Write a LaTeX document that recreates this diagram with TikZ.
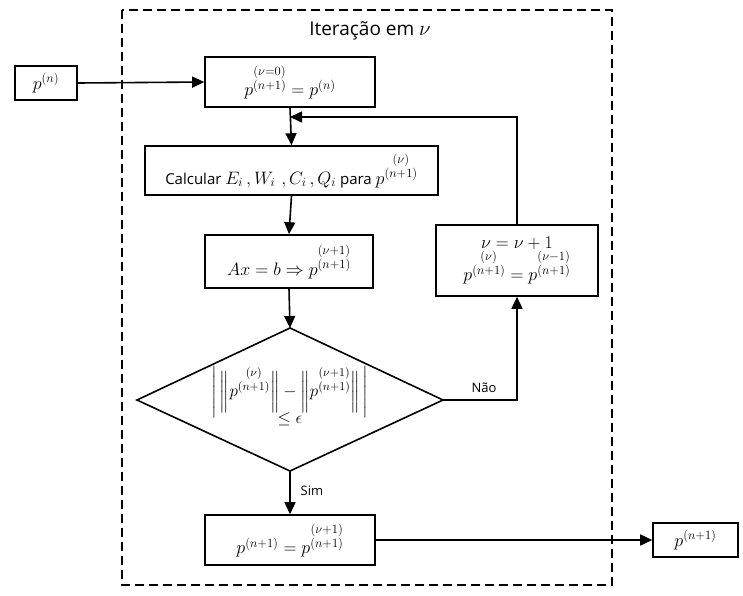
\RequirePackage{fix-cm}
\documentclass[tikz,border=0pt]{standalone}
\usepackage{amsmath}
\usepackage{fontspec}
\setmainfont{Open Sans}
\usetikzlibrary{arrows.meta}
\newcommand\pst[1]{p^{\overset{\scriptstyle #1}{(n+1)}}}
\tikzset{
  box/.style={draw, line width=1.6pt, fill=white, inner sep=2pt, align=center, font=\fontsize{18}{20}\selectfont},
  arr/.style={line width=1.6pt, -{Triangle[length=12pt,width=11pt]}},
  ln/.style={line width=1.6pt},
  lbl/.style={font=\fontsize{13}{15}\selectfont}
}
\begin{document}
\begin{tikzpicture}[x=1pt,y=-1pt]
\useasboundingbox (0,0) rectangle (743,595);
% frame
\draw[line width=1.6pt, dash pattern=on 9pt off 5pt] (122,10) rectangle (612,585);
\node[font=\fontsize{19}{21}\selectfont] (title) at (370,31) {Iteração em {\fontsize{21}{21}\selectfont$\nu$}};
% boxes
\node[box, minimum width=62, minimum height=34] (pn) at (46,83) {$p^{(n)}$};
\node[box, minimum width=170, minimum height=50] (b1) at (290,82) {$\pst{(\nu=0)} = p^{(n)}$};
\node[box, minimum width=293, minimum height=49, font=\fontsize{15}{17}\selectfont] (calc) at (291.5,170.5) {Calcular {\fontsize{18}{20}\selectfont$E_i\,,W_i\,\,,C_i\,,Q_i$} para {\fontsize{18}{20}\selectfont$\pst{(\nu)}$}};
\node[box, minimum width=168, minimum height=53] (ax) at (289,261.5) {$Ax=b\Rightarrow \pst{(\nu+1)}$};
\node[box, minimum width=162, minimum height=71] (nu) at (517,260.5) {$\nu=\nu+1$\\[-1pt] $\pst{(\nu)} = \pst{(\nu-1)}$};
\node[box, minimum width=170, minimum height=50] (fin) at (290,540) {$p^{(n+1)} = \pst{(\nu+1)}$};
\node[box, minimum width=85, minimum height=34] (out) at (695.5,540) {$p^{(n+1)}$};
% diamond
\coordinate (dt) at (290,328);
\coordinate (dl) at (137,400);
\coordinate (dr) at (443,400);
\coordinate (db) at (290,471);
\draw[ln, line join=miter] (dt) -- (dr) -- (db) -- (dl) -- cycle;
\node[align=center, font=\fontsize{17}{19}\selectfont] (dtext) at (290,396) {$\Biggl|\,\biggl\|\pst{(\nu)}\biggr\| - \biggl\|\pst{(\nu+1)}\biggr\|\,\Biggr|$\\[-6pt] $\le\epsilon$};
% connectors
\draw[arr] (pn.east) -- (b1.west);
\draw[arr] (b1.south) -- (calc.north);
\draw[arr] (calc.south) -- (ax.north);
\draw[arr] (ax.south) -- (dt);
\coordinate (rc) at (517,400);
\draw[arr] (dr) -- (rc) -- (nu.south);
\coordinate (jn) at (290,117);
\draw[arr] (nu.north) |- (jn);
\draw[arr] (db) -- (fin.north);
\draw[arr] (fin.east) -- (out.west);
\node[lbl] (nao) at (484,388) {Não};
\node[lbl] (sim) at (312,491) {Sim};
\end{tikzpicture}
\end{document}
